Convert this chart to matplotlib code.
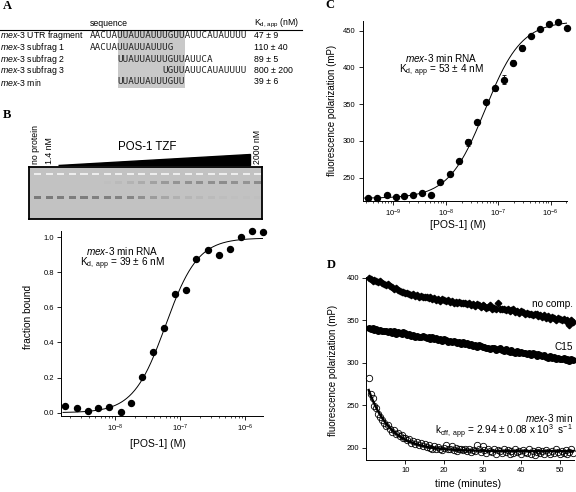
import numpy as np
import matplotlib
matplotlib.use('Agg')
import matplotlib.pyplot as plt
from matplotlib.patches import Rectangle, Polygon
from matplotlib.lines import Line2D
from matplotlib.ticker import FixedLocator, FuncFormatter, NullFormatter, LogLocator

plt.rcParams['font.family'] = ['Liberation Sans', 'DejaVu Sans']
plt.rcParams['mathtext.fontset'] = 'custom'
plt.rcParams['mathtext.rm'] = 'Liberation Sans'
plt.rcParams['mathtext.it'] = 'Liberation Sans:italic'
plt.rcParams['mathtext.bf'] = 'Liberation Sans:bold'

# ---------------- data ----------------
# Panel A table
table_prefix = 'mex-3'
table_names = ['UTR fragment', 'subfrag 1', 'subfrag 2', 'subfrag 3', 'min']
table_seqs = ['AACUAUUAUUAUUUGUUAUUCAUAUUUU', 'AACUAUUAUUAUUUG',
              'UUAUUAUUUGUUAUUCA', 'UGUUAUUCAUAUUUU', 'UUAUUAUUUGUU']
table_seq_start = [0, 0, 5, 13, 5]
table_core = (5, 17)
table_kd = ['47 ± 9', '110 ± 40', '89 ± 5', '800 ± 200', '39 ± 6']

# Panel B gel (gray level of each band per lane; 1 = white)
gel_free = [0.48, 0.48, 0.49, 0.49, 0.49, 0.50, 0.50, 0.51, 0.52, 0.56,
            0.61, 0.65, 0.69, 0.71, 0.72, 0.73, 0.74, 0.75, 0.75, 0.75]
gel_bound = [0.76, 0.76, 0.76, 0.76, 0.76, 0.76, 0.75, 0.73, 0.70, 0.67,
             0.63, 0.60, 0.58, 0.57, 0.56, 0.56, 0.55, 0.57, 0.58, 0.55]
gel_well = [0.93] * 20

# Panel B binding curve
B_logconc = [-8.764, -8.59, -8.42, -8.256, -8.09, -7.913, -7.754, -7.58, -7.415,
             -7.246, -7.082, -6.913, -6.749, -6.569, -6.4, -6.23, -6.067, -5.89, -5.72]
B_frac = [0.04, 0.025, 0.01, 0.025, 0.03, 0.004, 0.057, 0.205, 0.347, 0.485,
          0.674, 0.70, 0.873, 0.924, 0.898, 0.934, 0.998, 1.034, 1.028]
B_fit_mid, B_fit_n, B_fit_top = 6.0e-8, 1.75, 0.995

# Panel C fluorescence polarization titration
C_logconc = [-9.49, -9.306, -9.127, -8.96, -8.80, -8.62, -8.446, -8.274, -8.108,
             -7.93, -7.75, -7.58, -7.414, -7.236, -7.064, -6.89, -6.71, -6.548,
             -6.376, -6.204, -6.03, -5.86, -5.69]
C_mP = [222.9, 222.9, 226, 223.8, 224.7, 226.5, 229.7, 227, 244.1, 255, 272.3,
        298, 325.3, 353.4, 371.6, 383.4, 406.5, 426, 442.7, 452.3, 458.6, 461.3, 454]
C_err = [1, 1, 1, 1, 1, 1, 1, 1, 1, 1.5, 3, 5, 3.5, 2, 3, 6.5, 3, 4, 3, 2, 1.5, 1.5, 1.5]
C_fit_mid, C_fit_n, C_fit_bottom, C_fit_top = 5.6e-8, 1.25, 222, 463

# Panel D dissociation time course (one reading every 0.5 min)
D_t_start, D_t_step = 0.5, 0.5
D_nocomp = [400, 399, 397, 398, 396, 395, 396, 394, 393, 392,
            393, 390, 389, 387, 388, 386, 385, 384, 383, 382,
            382, 381, 380, 381, 379, 380, 378, 379, 377, 378,
            377, 376, 378, 375, 376, 374, 375, 373, 375, 374,
            373, 374, 372, 373, 371, 372, 370, 372, 371, 370,
            371, 369, 370, 368, 369, 367, 369, 368, 366, 368,
            367, 365, 366, 368, 364, 365, 363, 371, 364, 363,
            364, 362, 363, 361, 362, 363, 360, 361, 359, 361,
            360, 358, 359, 357, 358, 356, 357, 358, 355, 356,
            354, 356, 353, 355, 352, 354, 353, 351, 353, 352,
            350, 352, 349, 351, 345, 350, 348]
D_c15 = [341, 340, 341, 339, 340, 338, 339, 338, 337, 338,
         336, 337, 335, 338, 334, 336, 335, 334, 336, 335,
         333, 334, 332, 333, 331, 332, 331, 330, 332, 330,
         329, 331, 328, 330, 328, 329, 327, 328, 326, 328,
         327, 325, 326, 324, 326, 325, 323, 324, 322, 324,
         322, 323, 321, 322, 320, 321, 319, 321, 320, 319,
         319, 317, 318, 316, 318, 317, 315, 316, 317, 315,
         314, 316, 314, 313, 315, 313, 312, 314, 312, 313,
         311, 312, 310, 311, 309, 311, 310, 308, 310, 309,
         308, 309, 307, 306, 308, 306, 307, 305, 306, 305,
         304, 306, 303, 305, 302, 304, 303]
D_mex3 = [282, 263, 258, 249, 247, 240, 236, 233, 229, 226,
          227, 222, 219, 221, 216, 217, 214, 215, 211, 212,
          209, 210, 206, 208, 204, 207, 203, 205, 202, 204,
          201, 203, 200, 199, 202, 198, 201, 199, 197, 200,
          203, 198, 199, 202, 197, 200, 196, 199, 198, 197,
          199, 196, 198, 195, 197, 196, 203, 198, 195, 202,
          197, 194, 198, 196, 195, 199, 193, 197, 196, 194,
          198, 195, 197, 193, 196, 194, 198, 195, 196, 192,
          197, 195, 194, 198, 193, 196, 191, 195, 197, 194,
          196, 193, 197, 195, 192, 196, 194, 198, 195, 193,
          196, 194, 197, 192, 195, 198, 194]
D_koff_per_s = 2.94e-3
D_fit_plateau, D_fit_amp = 196, 78.6

# ---------------- figure ----------------
W, H = 576.0, 492.0
fig = plt.figure(figsize=(W / 100, H / 100), dpi=100)


def fx(x):
    return x / W


def fy(y):
    return 1 - y / H


def add_ax(x0, y0, x1, y1):
    return fig.add_axes([fx(x0), fy(y1), (x1 - x0) / W, (y1 - y0) / H])


def txt(x, y, s, **kw):
    return fig.text(fx(x), fy(y), s, **kw)


def style(ax):
    for s in ['top', 'right']:
        ax.spines[s].set_visible(False)
    for s in ['left', 'bottom']:
        ax.spines[s].set_linewidth(0.7)
    ax.tick_params(which='both', direction='out', width=0.6, labelsize=5.5, pad=2.5)
    ax.tick_params(which='major', length=2.6)
    ax.tick_params(which='minor', length=1.4, width=0.5)
    ax.patch.set_alpha(0)


def log_axis(ax, lo, hi):
    ax.set_xscale('log')
    ax.set_xlim(10 ** lo, 10 ** hi)
    decs = [10.0 ** d for d in range(int(np.ceil(lo)), int(np.floor(hi)) + 1)]
    ax.xaxis.set_major_locator(FixedLocator(decs))
    ax.xaxis.set_major_formatter(FuncFormatter(lambda v, p: r'$10^{%d}$' % round(np.log10(v))))
    ax.xaxis.set_minor_locator(LogLocator(base=10, subs=np.arange(2, 10), numticks=20))
    ax.xaxis.set_minor_formatter(NullFormatter())


letter = dict(family='Liberation Serif', weight='bold', fontsize=9, va='center', ha='left')
italic_prefix = r'$\mathit{mex}$-$\mathit{3}$'
note_fs = 7.2

# ---------- Panel A ----------
txt(3, 6, 'A', **letter)
char_w = 5.56
seq_x0 = 90
row_y = [35.5, 47, 59, 70.5, 82]
fig.add_artist(Rectangle((fx(seq_x0 + table_core[0] * char_w), fy(88)),
                         (table_core[1] - table_core[0]) * char_w / W, (88 - 29.5) / H,
                         transform=fig.transFigure, color='#c9c9c9', zorder=0, lw=0))
fig.add_artist(Line2D([fx(0), fx(302)], [fy(29.5), fy(29.5)], transform=fig.transFigure,
                      color='k', lw=0.8))
txt(seq_x0, 23.5, 'sequence', fontsize=6.3, va='center')
txt(254, 23.5, r'K$_{\mathrm{d,\,app}}$ (nM)', fontsize=6.3, va='center')
for y, nm, sq, st, kd in zip(row_y, table_names, table_seqs, table_seq_start, table_kd):
    txt(0, y, italic_prefix + ' ' + nm, fontsize=6.3, va='center')
    txt(seq_x0 + st * char_w, y, sq, family='DejaVu Sans Mono', fontsize=6.65,
        va='center', color='#222222')
    txt(254, y, kd, fontsize=6.3, va='center')

# ---------- Panel B gel ----------
txt(3, 115, 'B', **letter)
gax = add_ax(29.3, 166.7, 262, 219)
gax.set_facecolor('0.76')
gax.set_xlim(-0.72, 19.37)
gax.set_ylim(0, 1)
gax.set_xticks([])
gax.set_yticks([])
for s in gax.spines.values():
    s.set_linewidth(1.3)
lanes = np.arange(len(gel_free))
bw = 0.62
gax.bar(lanes, 0.065, bottom=0.407 - 0.0325, width=bw, color=[str(g) for g in gel_free], lw=0)
gax.bar(lanes, 0.065, bottom=0.70 - 0.0325, width=bw, color=[str(g) for g in gel_bound], lw=0)
gax.bar(lanes, 0.045, bottom=0.855 - 0.0225, width=bw, color=[str(g) for g in gel_well], lw=0)
gax.add_patch(Polygon([(1.78, 1.033), (18.33, 1.033), (18.33, 1.237)], closed=True,
                      color='k', clip_on=False, transform=gax.transData))
txt(147, 147, 'POS-1 TZF', fontsize=8.3, ha='center', va='center')
txt(36, 164.5, 'no protein', fontsize=6.3, rotation=90, ha='center', va='bottom')
txt(49, 164.5, '1.4 nM', fontsize=6.3, rotation=90, ha='center', va='bottom')
txt(257, 164.5, '2000 nM', fontsize=6.3, rotation=90, ha='center', va='bottom')

# ---------- Panel B binding plot ----------
bax = add_ax(61, 231, 263.3, 415.7)
style(bax)
log_axis(bax, -8.831, -5.718)
bax.set_ylim(-0.017, 1.035)
bax.set_yticks([0.0, 0.2, 0.4, 0.6, 0.8, 1.0])
bax.yaxis.set_major_formatter(FuncFormatter(lambda v, p: '%.1f' % v))
xx = np.logspace(-8.8, -5.72, 300)
bax.plot(xx, B_fit_top / (1 + (B_fit_mid / xx) ** B_fit_n), color='k', lw=0.7)
bax.plot(10 ** np.array(B_logconc), B_frac, 'o', color='k', ms=4.3, clip_on=False)
txt(122, 251.3, italic_prefix + ' min RNA', fontsize=note_fs, ha='center', va='center')
txt(122, 264.0, r'K$_{\mathrm{d,\ app}}$ = 39 ± 6 nM', fontsize=note_fs, ha='center', va='center')
txt(28, 317, 'fraction bound', fontsize=7.3, rotation=90, ha='center', va='center')
txt(158, 444, '[POS-1] (M)', fontsize=7.5, ha='center', va='center')

# ---------- Panel C ----------
txt(325, 5, 'C', **letter)
cax = add_ax(362.7, 20.7, 567.3, 201)
style(cax)
log_axis(cax, -9.586, -5.683)
cax.set_ylim(218.3, 463.6)
cax.set_yticks([250, 300, 350, 400, 450])
xx = np.logspace(-9.55, -5.69, 300)
cax.plot(xx, C_fit_bottom + (C_fit_top - C_fit_bottom) / (1 + (C_fit_mid / xx) ** C_fit_n),
         color='k', lw=0.7)
cax.errorbar(10 ** np.array(C_logconc), C_mP, yerr=C_err, fmt='o', color='k', ms=4.3,
             elinewidth=0.6, capsize=1.5, capthick=0.6, clip_on=False)
txt(441, 58.0, italic_prefix + ' min RNA', fontsize=note_fs, ha='center', va='center')
txt(441, 70.8, r'K$_{\mathrm{d,\ app}}$ = 53 ± 4 nM', fontsize=note_fs, ha='center', va='center')
txt(332, 110, 'fluorescence polarization (mP)', fontsize=7, rotation=90, ha='center', va='center')
txt(458, 225, '[POS-1] (M)', fontsize=7.5, ha='center', va='center')

# ---------- Panel D ----------
txt(327, 265, 'D', **letter)
dax = add_ax(366, 276.7, 574, 460)
style(dax)
dax.set_xlim(-0.2, 53.7)
dax.set_ylim(185.5, 401.5)
dax.set_xticks([10, 20, 30, 40, 50])
dax.set_yticks([200, 250, 300, 350, 400])
t = D_t_start + D_t_step * np.arange(len(D_nocomp))
dax.plot(t, D_nocomp, 'D', color='k', ms=3.3, lw=0, clip_on=False)
dax.plot(t, D_c15, 'o', color='k', ms=4.0, lw=0, clip_on=False)
dax.plot(t, D_mex3, 'o', mfc='none', mec='k', mew=0.6, ms=4.6, lw=0, clip_on=False)
tf = np.linspace(0.5, 53.5, 300)
dax.plot(tf, D_fit_plateau + D_fit_amp * np.exp(-D_koff_per_s * 60 * tf), color='k', lw=1.7)
txt(573, 304, 'no comp.', fontsize=note_fs, ha='right', va='center')
txt(573, 347, 'C15', fontsize=note_fs, ha='right', va='center')
txt(573, 417.5, italic_prefix + ' min', fontsize=note_fs, ha='right', va='center')
txt(573, 432.3, r'k$_{\mathrm{off,\ app}}$ = 2.94 ± 0.08 x 10$^{3}$  s$^{-1}$', fontsize=note_fs,
    ha='right', va='center')
txt(333, 370, 'fluorescence polarization (mP)', fontsize=7, rotation=90, ha='center', va='center')
txt(468, 484, 'time (minutes)', fontsize=7.5, ha='center', va='center')

fig.savefig('out.png', dpi=100)
